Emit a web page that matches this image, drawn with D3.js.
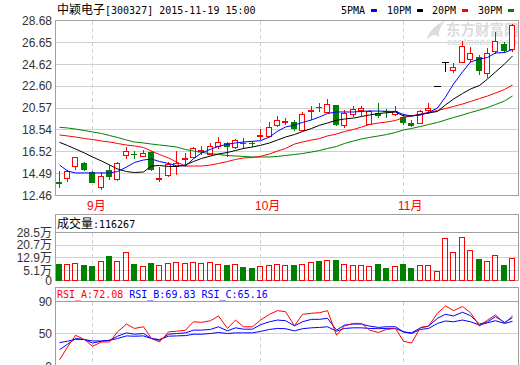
<html><head><meta http-equiv="Content-Type" content="text/html; charset=UTF-8"><title>中颖电子 300327</title>
<script src="https://cdn.jsdelivr.net/npm/d3@7/dist/d3.min.js"></script>
<style>
	body	{ margin:0; background:#fff; }
	svg	{ display:block; }
	text	{ font-family:"Liberation Sans",Arial,"Noto Sans CJK SC",sans-serif; }
	.mono	{ font-family:"DejaVu Sans Mono","Liberation Mono",monospace; font-size:10px; }
	.cjk	{ font-family:"Noto Sans CJK SC",sans-serif; font-size:12px; }
</style>
</head><body>
<svg width="520" height="365"></svg>
<script>
// trading days, 2015-08-26 .. 2015-11-19
var dates=['08-26','08-27','08-28','08-31',
 '09-01','09-02','09-07','09-08','09-09','09-10','09-11','09-14','09-15','09-16','09-17','09-18','09-21','09-22','09-23','09-24','09-25','09-28','09-29','09-30',
 '10-08','10-09','10-12','10-13','10-14','10-15','10-16','10-19','10-20','10-21','10-22','10-23','10-26','10-27','10-28','10-29','10-30',
 '11-02','11-03','11-04','11-05','11-06','11-09','11-10','11-11','11-12','11-13','11-16','11-17','11-18','11-19'];
var open =[13.74,14.05,15.24,15.44,14.64,13.25,14.78,13.96,16.19,16.31,16.12,16.52,14.04,14.36,15.19,15.87,16.06,16.68,16.35,17.05,17.33,16.91,17.30,17.33,17.97,18.02,18.95,19.29,19.27,18.50,20.29,20.68,20.20,20.87,18.99,20.01,20.34,19.08,20.13,20.31,19.97,19.71,19.21,19.15,20.34,22.59,24.85,24.06,24.79,25.11,25.30,23.81,25.81,26.50,26.08];
var high =[14.73,14.82,16.07,15.59,14.73,14.68,15.29,15.59,16.99,16.61,16.72,16.63,15.10,15.59,16.54,16.40,16.95,17.09,17.30,17.91,17.42,17.74,17.79,17.51,18.58,19.23,19.83,19.60,19.50,20.23,20.75,21.03,21.36,20.89,20.36,20.71,20.75,20.43,20.99,20.52,20.80,19.97,19.50,20.38,21.03,22.59,24.85,24.77,26.78,26.22,25.48,26.13,27.57,26.73,28.35];
var low  =[13.13,13.74,14.82,14.73,13.65,12.97,13.90,13.83,15.81,15.81,16.06,14.70,13.74,14.20,14.36,15.24,15.96,16.21,16.21,16.80,16.03,16.77,16.77,16.91,17.60,17.93,18.78,19.04,18.48,18.44,19.50,20.24,20.11,18.90,18.72,19.78,19.83,18.99,19.64,19.61,19.83,18.99,18.84,19.13,20.06,22.59,23.88,23.79,24.74,24.74,23.60,23.32,25.53,25.71,25.80];
var close=[13.50,14.76,16.06,14.82,13.65,14.27,14.17,15.44,16.61,16.21,16.37,14.78,14.08,15.38,15.47,15.91,16.86,16.72,17.09,17.46,16.91,17.65,17.26,17.28,18.04,18.85,19.46,19.36,18.62,19.99,20.36,20.63,20.94,18.97,20.15,20.45,20.54,20.29,19.83,20.26,20.29,19.21,18.90,20.29,20.54,22.59,24.85,24.37,26.29,25.71,24.00,25.64,26.81,25.81,28.26];
// volume, 万
var vol  =[8.9,8.9,9.3,8.0,7.3,10.5,13.7,10.5,15.8,8.9,7.5,9.3,8.0,9.3,9.9,9.5,9.9,9.5,9.9,8.9,8.0,8.5,7.1,5.9,7.5,8.0,8.9,8.0,8.0,8.9,9.9,10.7,11.3,11.3,8.9,8.0,8.0,7.7,8.9,6.5,7.7,8.9,6.5,8.0,8.0,4.6,24.8,15.8,25.4,17.2,11.9,10.5,14.3,8.0,12.4];
var ma5  =[15.29,14.73,14.55,14.55,14.55,14.55,14.55,14.68,15.10,15.52,15.75,15.84,15.61,15.43,15.22,15.19,15.87,16.40,16.74,17.02,17.21,17.33,17.42,17.48,17.54,17.88,18.41,18.81,18.99,19.23,19.46,19.74,20.06,20.20,20.20,20.20,20.25,20.29,20.29,20.26,20.25,19.97,19.83,19.92,20.15,20.57,21.59,22.79,23.91,24.83,25.11,25.25,25.67,25.71,25.99];
var ma10 =[17.39,17.09,16.77,16.40,16.03,15.66,15.29,14.92,14.68,14.59,14.64,15.19,15.24,15.15,15.15,15.29,15.61,15.89,16.12,16.31,16.45,16.63,16.82,16.96,17.11,17.33,17.60,17.88,18.11,18.39,18.67,18.97,19.18,19.43,19.55,19.64,19.78,19.92,20.06,20.13,20.20,19.83,19.83,19.97,20.11,20.25,20.85,21.40,21.91,22.33,22.66,23.26,23.91,24.65,25.39];
var ma20 =[18.07,17.98,17.88,17.74,17.65,17.51,17.42,17.28,17.14,17.05,16.91,16.58,16.26,15.94,15.57,15.19,15.19,15.19,15.29,15.43,15.61,15.80,15.94,15.98,16.08,16.31,16.58,16.82,17.23,17.42,17.60,17.74,17.98,18.16,18.39,18.58,18.81,19.04,19.18,19.27,19.41,19.69,19.83,20.01,20.15,20.34,20.52,20.71,20.94,21.17,21.45,21.68,21.96,22.28,22.70];
var ma30 =[18.78,18.72,18.62,18.48,18.35,18.21,18.02,17.84,17.60,17.42,17.33,17.23,17.14,17.05,16.96,16.72,16.58,16.45,16.35,16.26,16.17,16.12,16.08,16.03,16.03,16.03,16.08,16.17,16.26,16.35,16.49,16.63,16.82,17.00,17.28,17.51,17.70,17.84,17.98,18.11,18.30,18.53,18.67,18.86,19.04,19.23,19.46,19.69,19.92,20.15,20.38,20.62,20.89,21.22,21.68];
var rsiA =[17.1,33,47.8,42.4,34,39.4,39.4,52,61.8,56.3,58.4,43.7,39.4,52,52.9,54.2,64.7,63.9,66,71.9,56.3,66.8,58.4,58.4,66.8,74,78.6,77.3,59.6,74,75.3,76,78.6,47.8,59.6,62.6,62.6,54.2,51.3,55.1,56.3,40.3,38.1,57.6,59.2,75.3,84.6,78.6,83.7,76,59.2,66.8,73.2,62.6,72.08];
var rsiB =[29.7,36.5,43.7,42.4,38.1,40.3,41.5,46.6,50.8,49.1,50,43.7,41.5,49.1,50,50.8,54.2,54.2,55.1,58.4,53.3,57.1,55.4,55.4,61,64.7,66.8,66,59.6,64.7,67.7,67.7,69,54.2,60.5,61.8,61.8,59.2,57.6,58.4,58.4,52,50.8,57.1,59.2,69,74,71.9,76.6,72.3,61.8,64.7,71,63.9,69.83];
var rsiC =[38.6,40.3,42.8,42.4,40.7,40.7,41.5,43.7,47,46.6,47,43.7,42.4,46.6,47,47.4,49.1,49.1,50,51.3,50,50.8,50.8,50.8,52.6,55.1,56.3,56,53.3,56,57.1,57.6,58.4,52.9,56.3,57.1,57.1,56.3,56,56.3,56.3,52,50,55.1,56.3,62.6,65.6,64.7,66.8,64.7,60.5,63.4,66,62.6,65.16];
var priceTicks=[12.46,14.49,16.52,18.54,20.57,22.60,24.62,26.65,28.68];
var volTicks=[0,5.1,12.9,20.7,28.5];
var rsiTicks=[0,50,90];
var maNames=['5PMA','10PM','20PM','30PM'];

var RED='#ff0000', GRN='#008000', BLU='#0000ff', BORDER='#a0a0a0', GRID='#d0d0d0';
var L=55.5, R=518.5;
var svg=d3.select('svg');
var idx=d3.range(dates.length);
var x=d3.scaleBand().domain(idx).range([54.3,516.5]);
function cx(i){ return Math.round(x(i)+x.step()/2); }
var y =d3.scaleLinear().domain([12.46,28.68]).range([195.5,20.5]);
var yV=d3.scaleLinear().domain([0,28.5]).range([278.5,232.5]);
var yR=d3.scaleLinear().domain([50,90]).range([333.5,301.5]);
var monthStart=idx.filter(function(i){ return i>0 && dates[i].slice(0,2)!==dates[i-1].slice(0,2); });

// ---- frames, grids
function hgrid(scale,ticks,top,bot){
	ticks.forEach(function(t){
		var yy=Math.round(scale(t)-.5)+.5;
		if(yy<=top+1||yy>=bot-3) return;
		svg.append('line').attr('x1',L).attr('x2',R).attr('y1',yy).attr('y2',yy).attr('stroke',GRID).attr('shape-rendering','crispEdges');
	});
}
function vdash(top,bot){
	monthStart.forEach(function(i){
		svg.append('line').attr('x1',cx(i)+.5).attr('x2',cx(i)+.5).attr('y1',top).attr('y2',bot)
		.attr('stroke',GRID).attr('stroke-dasharray','4,3').attr('shape-rendering','crispEdges');
	});
}
hgrid(y,priceTicks,20.5,195.5); vdash(20.5,195.5);
hgrid(yV,volTicks,232.5,280.5); vdash(232.5,280.5);
hgrid(yR,rsiTicks,301.5,365); vdash(301.5,365);

// watermark
var wm=svg.append('g').attr('fill','#dcdcdc');
wm.append('path').attr('d','M426,40 C430,30 436,24 445,21 C440,27 438,32 439,38 C436,33 432,35 426,40 Z');
wm.append('text').attr('x',446).attr('y',35).attr('font-size',14.5).attr('font-weight','bold').attr('font-family','"Noto Sans CJK SC",sans-serif').text('东方财富网');
wm.append('text').attr('x',447).attr('y',45).attr('font-size',8.5).attr('font-style','italic').attr('font-weight','bold').attr('letter-spacing',0.5).text('eastmoney.com');

svg.append('rect').attr('x',L).attr('y',20.5).attr('width',R-L).attr('height',175).attr('fill','none').attr('stroke',BORDER).attr('shape-rendering','crispEdges');
svg.append('rect').attr('x',L).attr('y',214.5).attr('width',R-L).attr('height',66).attr('fill','none').attr('stroke',BORDER).attr('shape-rendering','crispEdges');
svg.append('line').attr('x1',L).attr('x2',R).attr('y1',232.5).attr('y2',232.5).attr('stroke',BORDER).attr('shape-rendering','crispEdges');
svg.append('rect').attr('x',L).attr('y',287.5).attr('width',R-L).attr('height',90).attr('fill','none').attr('stroke',BORDER).attr('shape-rendering','crispEdges');
svg.append('line').attr('x1',L).attr('x2',R).attr('y1',301.5).attr('y2',301.5).attr('stroke',BORDER).attr('shape-rendering','crispEdges');

// ---- axes labels
function leftAxis(scale,ticks,fmt){
	var ax=d3.axisLeft(scale).tickValues(ticks).tickSize(0).tickPadding(0).tickFormat(fmt);
	var g=svg.append('g').attr('transform','translate(52,0)').call(ax);
	g.select('.domain').remove();
	g.selectAll('text').attr('font-size',12).attr('fill','#333').attr('font-family','"Liberation Sans",Arial,"Noto Sans CJK SC",sans-serif');
	return g;
}
leftAxis(y,priceTicks,d3.format('.2f'));
// the "0" labels sit on the panel floor, not on the scale zero
leftAxis(yV,volTicks,function(v){ return v===0?'0':v+'万'; })
	.selectAll('.tick').filter(function(d){ return d===0; }).attr('transform','translate(0,281.5)');
leftAxis(yR,rsiTicks,function(v){ return v; })
	.selectAll('.tick').filter(function(d){ return d===0; }).attr('transform','translate(0,367)');
// month labels
svg.selectAll('text.month').data(monthStart).enter().append('text').attr('class','month')
	.attr('x',function(i){ return cx(i)-5; }).attr('y',210).attr('font-size',12).attr('fill',RED)
	.attr('font-family','"Liberation Sans","Noto Sans CJK SC",sans-serif')
	.text(function(i){ return (+dates[i].slice(0,2))+'月'; });

// ---- candles
var kg=svg.append('g').attr('shape-rendering','crispEdges');
idx.forEach(function(i){
	var c=cx(i), o=open[i], cl=close[i];
	var yo=Math.round(y(o)), yc=Math.round(y(cl)), yh=Math.round(y(high[i])), yl=Math.round(y(low[i]));
	if(cl>o){
		kg.append('line').attr('x1',c+.5).attr('x2',c+.5).attr('y1',yh).attr('y2',yc).attr('stroke',RED);
		kg.append('line').attr('x1',c+.5).attr('x2',c+.5).attr('y1',yo).attr('y2',yl).attr('stroke',RED);
		kg.append('rect').attr('x',c-2.5).attr('y',yc+.5).attr('width',5).attr('height',Math.max(yo-yc,1)).attr('fill','#fff').attr('stroke',RED);
	}else if(cl<o){
		kg.append('line').attr('x1',c+.5).attr('x2',c+.5).attr('y1',yh).attr('y2',yl).attr('stroke',GRN);
		kg.append('rect').attr('x',c-3).attr('y',yo).attr('width',6).attr('height',Math.max(yc-yo,1)).attr('fill',GRN);
	}else{
		kg.append('line').attr('x1',c+.5).attr('x2',c+.5).attr('y1',yh).attr('y2',yl).attr('stroke','#000');
		kg.append('line').attr('x1',c-3).attr('x2',c+4).attr('y1',yo+.5).attr('y2',yo+.5).attr('stroke','#000');
	}
});

// ---- moving averages
var line=d3.line().x(function(d,i){ return cx(i)+.5; }).y(function(d){ return y(d); });
[[ma30,GRN],[ma20,RED],[ma10,'#000'],[ma5,BLU]].forEach(function(m){
	svg.append('path').attr('d',line(m[0])).attr('fill','none').attr('stroke',m[1]).attr('stroke-width',1);
});

// ---- header & legend
var t=svg.append('text').attr('x',57).attr('y',14).attr('fill','#000');
t.append('tspan').attr('class','cjk').text('中颖电子');
t.append('tspan').attr('class','mono').attr('font-size',11).text('[300327] 2015-11-19 15:00');
var legX=[341,387,432,478], legC=[BLU,'#000',RED,GRN];
maNames.forEach(function(n,k){
	svg.append('text').attr('class','mono').attr('x',legX[k]).attr('y',14).attr('font-size',10.5).attr('fill','#000').text(n);
	svg.append('rect').attr('x',legX[k]+30).attr('y',9).attr('width',6).attr('height',3).attr('fill',legC[k]);
});

// ---- volume (bars run down to the panel floor)
var vg=svg.append('g').attr('shape-rendering','crispEdges');
idx.forEach(function(i){
	var c=cx(i), top=Math.round(yV(vol[i])-.5);
	if(close[i]>=open[i])
		vg.append('rect').attr('x',c-2.5).attr('y',top+.5).attr('width',5).attr('height',280-top).attr('fill','none').attr('stroke',RED);
	else
		vg.append('rect').attr('x',c-3).attr('y',top).attr('width',6).attr('height',281-top).attr('fill',GRN);
});
var vt=svg.append('text').attr('x',57).attr('y',228).attr('fill','#000');
vt.append('tspan').attr('class','cjk').text('成交量');
vt.append('tspan').attr('class','mono').attr('font-size',11).text(':116267');

// ---- RSI
var rl=d3.line().x(function(d,i){ return cx(i)+.5; }).y(function(d){ return yR(d); });
[[rsiC,BLU],[rsiB,BLU],[rsiA,RED]].forEach(function(m){
	svg.append('path').attr('d',rl(m[0])).attr('fill','none').attr('stroke',m[1]).attr('stroke-width',1);
});
var last=dates.length-1;
var rt=svg.append('text').attr('class','mono').attr('x',57).attr('y',298).attr('font-size',10.5).attr('xml:space','preserve');
rt.append('tspan').attr('fill',RED).text('RSI_A:'+rsiA[last].toFixed(2)+' ');
rt.append('tspan').attr('fill',BLU).text('RSI_B:'+rsiB[last].toFixed(2)+' ');
rt.append('tspan').attr('fill',BLU).text('RSI_C:'+rsiC[last].toFixed(2));
</script>
</body></html>
